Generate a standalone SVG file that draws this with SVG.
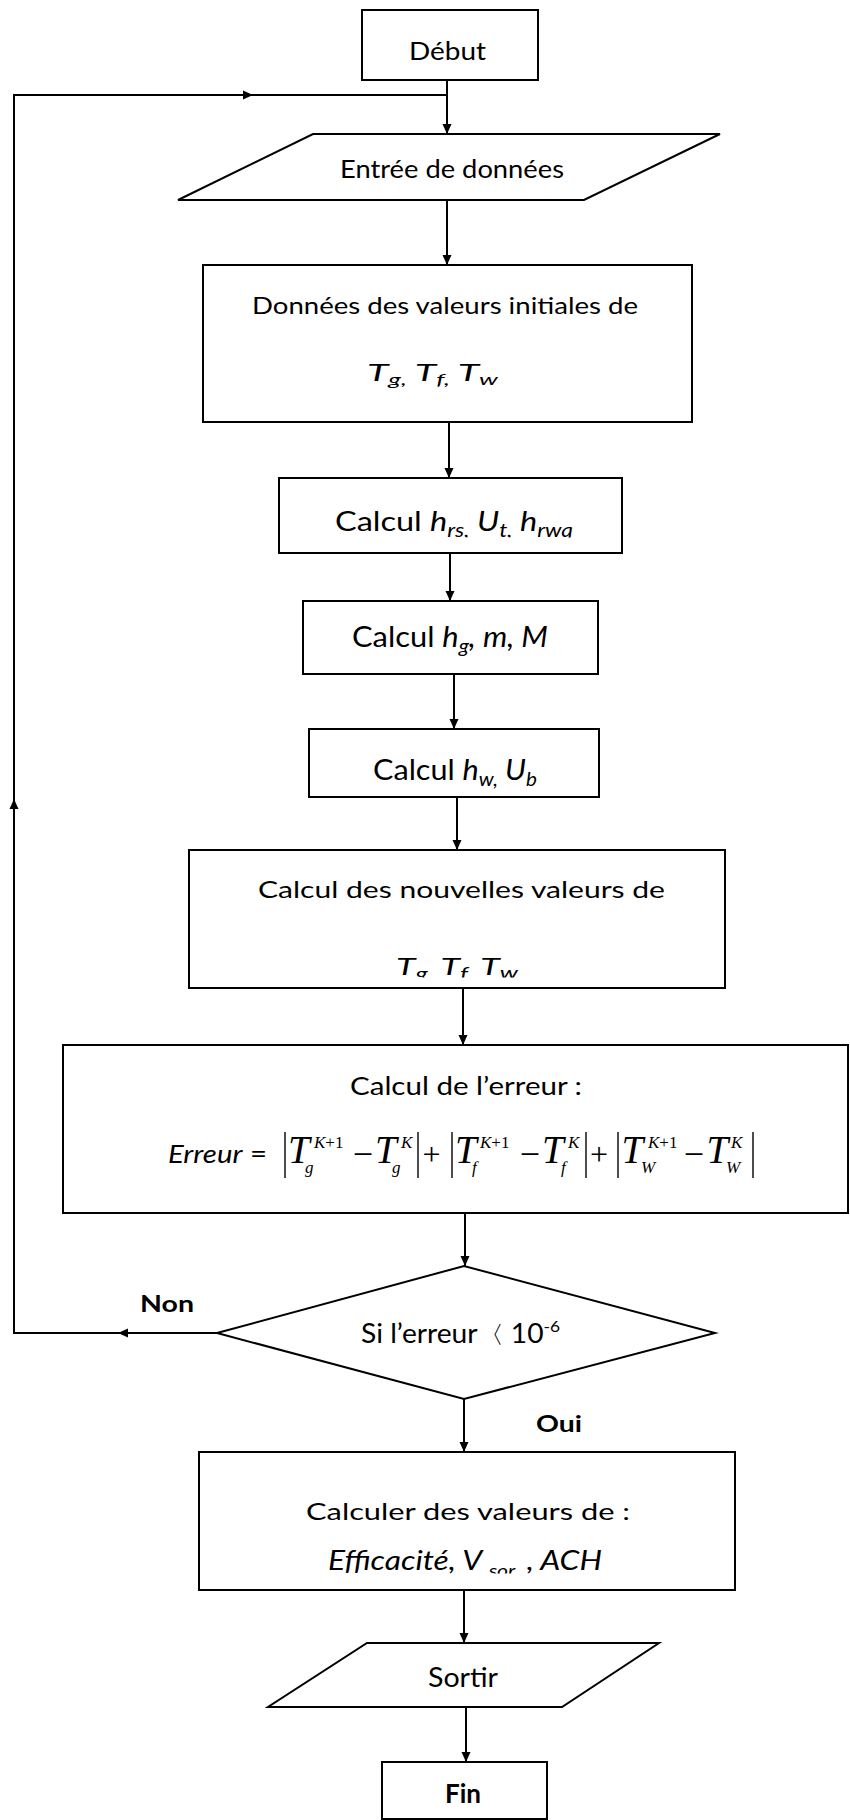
<svg xmlns="http://www.w3.org/2000/svg" width="850" height="1820" viewBox="0 0 850 1820">
<style>
.box{fill:#fff;stroke:#000;stroke-width:2}
.c{fill:none;stroke:#000;stroke-width:2}
.bar{stroke:#000;stroke-width:1.4}
.t{font-family:Lato,"Liberation Sans",sans-serif;fill:#000}
.i{font-style:italic}
.b{font-weight:bold}
.m{font-family:"Liberation Serif","Times New Roman",serif;font-style:italic;fill:#000}
.mu{font-family:"Liberation Serif","Times New Roman",serif;font-style:normal;fill:#000}
</style>
<defs>
<marker id="arr" viewBox="0 0 10 10" refX="10" refY="5" markerWidth="10" markerHeight="10" markerUnits="userSpaceOnUse" orient="auto">
<path d="M0,0.5 L10,5 L0,9.5 Z" fill="#000"/>
</marker>
<clipPath id="clipA"><rect x="0" y="490" width="850" height="47.5"/></clipPath>
<clipPath id="clipB"><rect x="0" y="940" width="850" height="37.5"/></clipPath>
<clipPath id="clipC"><rect x="0" y="1530" width="850" height="43.5"/></clipPath>
</defs>
<rect width="850" height="1820" fill="#fff"/>

<g id="connectors">
<line class="c" x1="447" y1="80" x2="447" y2="134" marker-end="url(#arr)"/>
<polyline class="c" points="217,1333 118,1333" marker-end="url(#arr)"/>
<polyline class="c" points="118,1333 14,1333 14,799" marker-end="url(#arr)"/>
<polyline class="c" points="14,799 14,95 253,95" marker-end="url(#arr)"/>
<line class="c" x1="253" y1="95" x2="447" y2="95"/>
<line class="c" x1="447" y1="200" x2="447" y2="265" marker-end="url(#arr)"/>
<line class="c" x1="449" y1="422" x2="449" y2="478" marker-end="url(#arr)"/>
<line class="c" x1="450" y1="553" x2="450" y2="601" marker-end="url(#arr)"/>
<line class="c" x1="454" y1="674" x2="454" y2="729" marker-end="url(#arr)"/>
<line class="c" x1="457" y1="797" x2="457" y2="850" marker-end="url(#arr)"/>
<line class="c" x1="463" y1="988" x2="463" y2="1045" marker-end="url(#arr)"/>
<line class="c" x1="465" y1="1213" x2="465" y2="1266" marker-end="url(#arr)"/>
<line class="c" x1="464" y1="1399" x2="464" y2="1452" marker-end="url(#arr)"/>
<line class="c" x1="464" y1="1590" x2="464" y2="1643" marker-end="url(#arr)"/>
<line class="c" x1="466" y1="1707" x2="466" y2="1762" marker-end="url(#arr)"/>
</g>

<g id="debut">
<rect class="box" x="362" y="10" width="176" height="70"/>
<text class="t" x="409" y="60" font-size="25" textLength="77" lengthAdjust="spacingAndGlyphs">Début</text>
</g>

<g id="entree">
<polygon class="box" points="313,134 720,134 584,200 178,200"/>
<text class="t" x="340" y="178" font-size="25" textLength="224" lengthAdjust="spacingAndGlyphs">Entrée de données</text>
</g>

<g id="init">
<rect class="box" x="203" y="265" width="489" height="157"/>
<text class="t" x="252" y="314" font-size="24" textLength="386" lengthAdjust="spacingAndGlyphs">Données des valeurs initiales de</text>
<text class="t i" x="367" y="381" font-size="24" textLength="131" lengthAdjust="spacingAndGlyphs">T<tspan font-size="16" dy="4">g,</tspan><tspan dy="-4"> T</tspan><tspan font-size="16" dy="4">f,</tspan><tspan dy="-4"> T</tspan><tspan font-size="16" dy="4">w</tspan></text>
</g>

<g id="calc1">
<rect class="box" x="279" y="478" width="343" height="75"/>
<text class="t" clip-path="url(#clipA)" x="335" y="531" font-size="27" textLength="238" lengthAdjust="spacingAndGlyphs">Calcul  <tspan class="i">h</tspan><tspan class="i" font-size="19" dy="6">rs,</tspan><tspan class="i" dy="-6"> U</tspan><tspan class="i" font-size="19" dy="6">t,</tspan><tspan class="i" dy="-6"> h</tspan><tspan class="i" font-size="19" dy="6">rwq</tspan></text>
</g>

<g id="calc2">
<rect class="box" x="303" y="601" width="295" height="73"/>
<text class="t" x="352" y="647" font-size="28" textLength="196" lengthAdjust="spacingAndGlyphs">Calcul <tspan class="i">h</tspan><tspan class="i" font-size="19" dy="6">g</tspan><tspan class="i" dy="-6">, m, M</tspan></text>
</g>

<g id="calc3">
<rect class="box" x="309" y="729" width="290" height="68"/>
<text class="t" x="373" y="780" font-size="28" textLength="164" lengthAdjust="spacingAndGlyphs">Calcul <tspan class="i">h</tspan><tspan class="i" font-size="19" dy="6">w,</tspan><tspan class="i" dy="-6"> U</tspan><tspan class="i" font-size="19" dy="6">b</tspan></text>
</g>

<g id="nouvelles">
<rect class="box" x="189" y="850" width="536" height="138"/>
<text class="t" x="258" y="898" font-size="22.5" textLength="407" lengthAdjust="spacingAndGlyphs">Calcul des nouvelles valeurs de</text>
<text class="t i" clip-path="url(#clipB)" x="396" y="975" font-size="24" textLength="122" lengthAdjust="spacingAndGlyphs">T<tspan font-size="17" dy="5">g,</tspan><tspan dy="-5"> T</tspan><tspan font-size="17" dy="5">f,</tspan><tspan dy="-5"> T</tspan><tspan font-size="17" dy="4">w</tspan></text>
</g>

<g id="erreur">
<rect class="box" x="63" y="1045" width="785" height="168"/>
<text class="t" x="350" y="1095" font-size="25.5" textLength="232" lengthAdjust="spacingAndGlyphs">Calcul de l’erreur :</text>
<text class="t" x="168" y="1163" font-size="26" textLength="99" lengthAdjust="spacingAndGlyphs"><tspan class="i">Erreur</tspan> =</text>
<line class="bar" x1="285" y1="1132" x2="285" y2="1178"/>
<text class="m" x="288" y="1163" font-size="39">T</text>
<text class="m" x="314" y="1148" font-size="17">K<tspan class="mu">+1</tspan></text>
<text class="m" x="305" y="1173" font-size="17">g</text>
<text class="mu" x="363" y="1166" font-size="36" text-anchor="middle">−</text>
<text class="m" x="375" y="1163" font-size="39">T</text>
<text class="m" x="401" y="1148" font-size="17">K</text>
<text class="m" x="392" y="1173" font-size="17">g</text>
<line class="bar" x1="418" y1="1132" x2="418" y2="1178"/>
<text class="mu" x="431.5" y="1165" font-size="32" text-anchor="middle">+</text>
<line class="bar" x1="452" y1="1132" x2="452" y2="1178"/>
<text class="m" x="455" y="1163" font-size="39">T</text>
<text class="m" x="480" y="1148" font-size="17">K<tspan class="mu">+1</tspan></text>
<text class="m" x="472" y="1173" font-size="17">f</text>
<text class="mu" x="530" y="1166" font-size="36" text-anchor="middle">−</text>
<text class="m" x="542" y="1163" font-size="39">T</text>
<text class="m" x="568" y="1148" font-size="17">K</text>
<text class="m" x="561" y="1173" font-size="17">f</text>
<line class="bar" x1="586" y1="1132" x2="586" y2="1178"/>
<text class="mu" x="599" y="1165" font-size="32" text-anchor="middle">+</text>
<line class="bar" x1="618" y1="1132" x2="618" y2="1178"/>
<text class="m" x="621.5" y="1163" font-size="39">T</text>
<text class="m" x="648" y="1148" font-size="17">K<tspan class="mu">+1</tspan></text>
<text class="m" x="641" y="1173" font-size="17">W</text>
<text class="mu" x="694" y="1166" font-size="36" text-anchor="middle">−</text>
<text class="m" x="706.5" y="1163" font-size="39">T</text>
<text class="m" x="731" y="1148" font-size="17">K</text>
<text class="m" x="726" y="1173" font-size="17">W</text>
<line class="bar" x1="753" y1="1132" x2="753" y2="1178"/>
</g>

<g id="decision">
<polygon class="box" points="217,1333 464,1266 715,1333 464,1399"/>
<text class="t" x="361" y="1343" font-size="26" textLength="199" lengthAdjust="spacingAndGlyphs">Si l’erreur<tspan font-family="DejaVu Sans, sans-serif" font-size="24">〈</tspan> 10<tspan font-size="16" dy="-11">-6</tspan></text>
</g>

<g id="labels">
<text class="t b" x="140" y="1312" font-size="23" textLength="54" lengthAdjust="spacingAndGlyphs">Non</text>
<text class="t b" x="536" y="1432" font-size="22" textLength="46" lengthAdjust="spacingAndGlyphs">Oui</text>
</g>

<g id="calculer">
<rect class="box" x="199" y="1452" width="536" height="138"/>
<text class="t" x="306" y="1520" font-size="23" textLength="324" lengthAdjust="spacingAndGlyphs">Calculer des valeurs de :</text>
<text class="t i" clip-path="url(#clipC)" x="328" y="1570" font-size="27" textLength="274" lengthAdjust="spacingAndGlyphs">Efficacité, V <tspan font-size="18" dy="7">sor,</tspan><tspan dy="-7"> , ACH</tspan></text>
</g>

<g id="sortir">
<polygon class="box" points="367,1643 659,1643 562,1707 268,1707"/>
<text class="t" x="428" y="1687" font-size="27" textLength="70" lengthAdjust="spacingAndGlyphs">Sortir</text>
</g>

<g id="fin">
<rect class="box" x="382" y="1762" width="165" height="57"/>
<text class="t b" x="445" y="1803" font-size="27" textLength="36" lengthAdjust="spacingAndGlyphs">Fin</text>
</g>
</svg>
